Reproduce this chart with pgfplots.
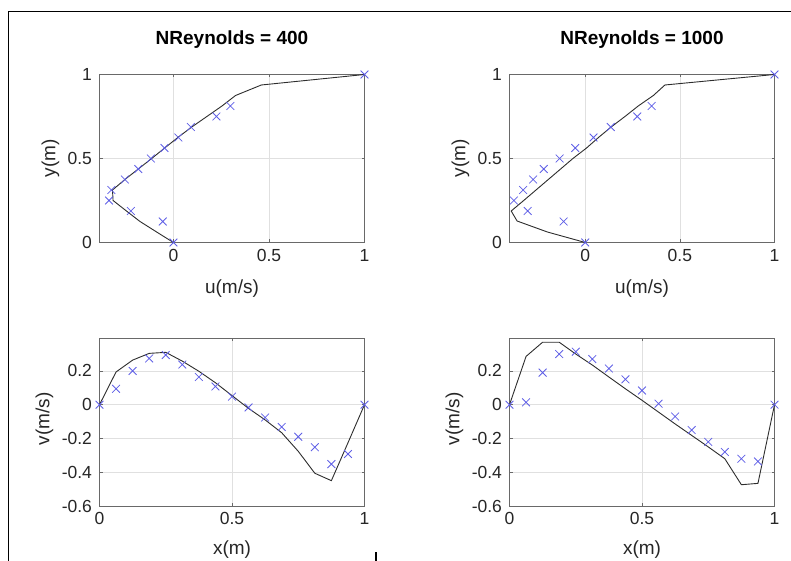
\documentclass[border=0pt]{standalone}
\usepackage{fontspec}
\setmainfont{Liberation Sans}
\usepackage{pgfplots}
\pgfplotsset{compat=1.18}

\definecolor{mk}{RGB}{95,95,230}
\definecolor{ln}{RGB}{45,45,45}
\definecolor{ax}{RGB}{105,105,105}
\definecolor{gr}{RGB}{224,224,224}

\pgfplotsset{
  every axis title shift=0pt,
  myaxis/.style={
    scale only axis, width=265pt, height=168pt,
    axis line style={ax, line width=0.9pt},
    tick style={ax, line width=0.6pt},
    tick align=inside, major tick length=3pt,
    grid=major, grid style={gr, line width=0.6pt},
    clip=false,
    /pgf/number format/assume math mode=true,
    ticklabel style={font=\fontsize{17.5}{20}\selectfont, text=black!85},
    xticklabel style={yshift=-3pt},
    yticklabel style={xshift=-4pt},
    label style={font=\fontsize{19}{22}\selectfont, text=black!85},
    title style={font=\bfseries\fontsize{19}{22}\selectfont, at={(axis description cs:0.5,1.205)}, anchor=center},
    xlabel style={at={(axis description cs:0.5,-0.274)}, anchor=center},
    ylabel style={at={(axis description cs:-0.185,0.5)}, anchor=center},
  },
  lin/.style={ln, line width=0.9pt, mark=none},
  pts/.style={mk, only marks, mark=x, mark size=5.5pt, mark options={line width=0.8pt}},
}

\begin{document}
\begin{tikzpicture}
\path[use as bounding box] (0,0) rectangle (791pt,561pt);
\draw[line width=1pt] (8pt,0) -- (8pt,549pt) -- (791pt,549pt);
\draw[line width=1.5pt] (376pt,0) -- (376pt,9pt);

% Top-left: Re = 400, u profile
\begin{axis}[myaxis, at={(99.5pt,318.5pt)}, anchor=south west,
  xmin=-0.387, xmax=1, ymin=0, ymax=1,
  xtick={0,0.5,1}, ytick={0,0.5,1},
  title={NReynolds = 400}, xlabel={u(m/s)}, ylabel={y(m)}]
\addplot[lin] coordinates {(0,0) (-0.088,0.0625) (-0.175,0.125) (-0.246,0.1875) (-0.316,0.25) (-0.319,0.3125) (-0.254,0.375) (-0.184,0.4375) (-0.114,0.5) (-0.046,0.5625) (0.023,0.625) (0.096,0.6875) (0.175,0.75) (0.254,0.8125) (0.325,0.875) (0.46,0.9375) (1,1)};
\addplot[pts] coordinates {(1,1) (0.298,0.8125) (0.225,0.75) (0.091,0.6875) (0.026,0.625) (-0.047,0.5625) (-0.118,0.5) (-0.184,0.4375) (-0.254,0.375) (-0.325,0.3125) (-0.337,0.25) (-0.223,0.1875) (-0.056,0.125) (0,0)};
\end{axis}

% Top-right: Re = 1000, u profile
\begin{axis}[myaxis, at={(509.5pt,318.5pt)}, anchor=south west,
  xmin=-0.40, xmax=1, ymin=0, ymax=1,
  xtick={0,0.5,1}, ytick={0,0.5,1},
  title={NReynolds = 1000}, xlabel={u(m/s)}, ylabel={y(m)}]
\addplot[lin] coordinates {(0,0) (-0.2,0.0625) (-0.36,0.128) (-0.391,0.1875) (-0.325,0.25) (-0.26,0.3125) (-0.195,0.375) (-0.13,0.4375) (-0.065,0.5) (0.007,0.5625) (0.07,0.625) (0.137,0.6875) (0.21,0.75) (0.28,0.8125) (0.36,0.875) (0.421,0.9375) (1,1)};
\addplot[pts] coordinates {(1,1) (0.351,0.8125) (0.275,0.75) (0.135,0.6875) (0.044,0.625) (-0.053,0.5625) (-0.135,0.5) (-0.219,0.4375) (-0.275,0.375) (-0.328,0.3125) (-0.377,0.25) (-0.304,0.1875) (-0.114,0.125) (0,0)};
\end{axis}

% Bottom-left: Re = 400, v profile
\begin{axis}[myaxis, at={(99.5pt,55pt)}, anchor=south west,
  xmin=0, xmax=1, ymin=-0.6, ymax=0.395,
  xtick={0,0.5,1}, ytick={-0.6,-0.4,-0.2,0,0.2},
  xlabel={x(m)}, ylabel={v(m/s)},
  xlabel style={at={(axis description cs:0.5,-0.262)}},
  ylabel style={at={(axis description cs:-0.208,0.52)}}]
\addplot[lin] coordinates {(0,0) (0.0625,0.194) (0.125,0.264) (0.1875,0.304) (0.25,0.31) (0.3125,0.258) (0.375,0.198) (0.4375,0.13) (0.5,0.054) (0.5625,-0.022) (0.625,-0.09) (0.6875,-0.166) (0.75,-0.276) (0.8125,-0.406) (0.875,-0.45) (0.9375,-0.226) (1,0)};
\addplot[pts] coordinates {(0,0) (0.0625,0.094) (0.125,0.2) (0.1875,0.274) (0.25,0.294) (0.3125,0.238) (0.375,0.164) (0.4375,0.108) (0.5,0.048) (0.5625,-0.016) (0.625,-0.076) (0.6875,-0.132) (0.75,-0.19) (0.8125,-0.252) (0.875,-0.352) (0.9375,-0.292) (1,0)};
\end{axis}

% Bottom-right: Re = 1000, v profile
\begin{axis}[myaxis, at={(509.5pt,55pt)}, anchor=south west,
  xmin=0, xmax=1, ymin=-0.6, ymax=0.395,
  xtick={0,0.5,1}, ytick={-0.6,-0.4,-0.2,0,0.2},
  xlabel={x(m)}, ylabel={v(m/s)},
  xlabel style={at={(axis description cs:0.5,-0.262)}},
  ylabel style={at={(axis description cs:-0.208,0.52)}}]
\addplot[lin] coordinates {(0,0) (0.0625,0.286) (0.125,0.37) (0.1875,0.37) (0.25,0.30) (0.3125,0.235) (0.375,0.164) (0.4375,0.094) (0.5,0.026) (0.5625,-0.044) (0.625,-0.114) (0.6875,-0.182) (0.75,-0.25) (0.8125,-0.32) (0.875,-0.474) (0.9375,-0.466) (1,0)};
\addplot[pts] coordinates {(0,0) (0.0625,0.014) (0.125,0.19) (0.1875,0.30) (0.25,0.314) (0.3125,0.27) (0.375,0.214) (0.4375,0.15) (0.5,0.084) (0.5625,0.006) (0.625,-0.07) (0.6875,-0.15) (0.75,-0.22) (0.8125,-0.28) (0.875,-0.32) (0.9375,-0.336) (1,0)};
\end{axis}
\end{tikzpicture}
\end{document}
